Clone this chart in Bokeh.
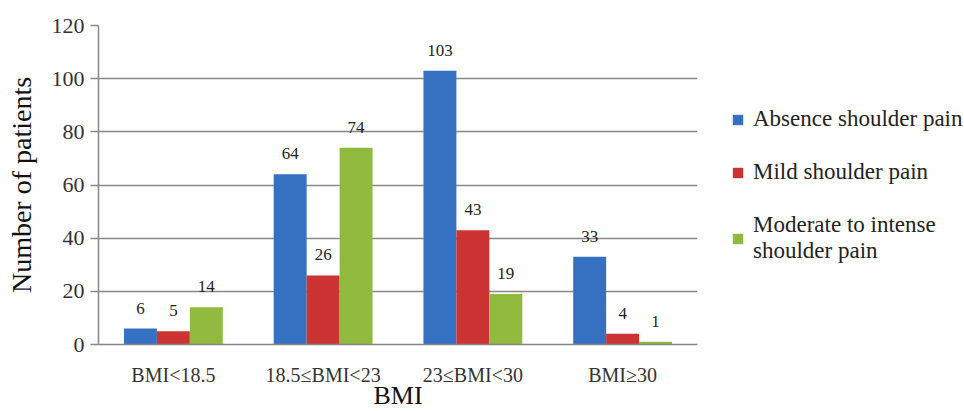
from bokeh.plotting import figure
from bokeh.models import ColumnDataSource, FactorRange, Legend, LegendItem, LabelSet
from bokeh.transform import dodge
from bokeh.embed import file_html
from bokeh.resources import INLINE
from bokeh.core.properties import value

categories = ["BMI<18.5", "18.5≤BMI<23", "23≤BMI<30", "BMI≥30"]
absence = [6, 64, 103, 33]
mild = [5, 26, 43, 4]
moderate = [14, 74, 19, 1]
series_names = ["Absence shoulder pain", "Mild shoulder pain", "Moderate to intense\nshoulder pain"]
y_ticks = [0, 20, 40, 60, 80, 100, 120]

colors = ["#3670c0", "#cc3333", "#8fba3e"]
FONT = "Liberation Serif"

src = ColumnDataSource(dict(cat=categories, a=absence, m=mild, s=moderate,
                            al=[str(v) for v in absence],
                            ml=[str(v) for v in mild],
                            sl=[str(v) for v in moderate]))

p = figure(x_range=FactorRange(*categories), y_range=(0, 120),
           frame_width=599, frame_height=319, output_backend="svg", toolbar_location=None,
           min_border_left=98, min_border_right=0, min_border_top=25, min_border_bottom=0)

W = 0.22
renderers = []
for key, lab, off, col in [("a", "al", -W, colors[0]), ("m", "ml", 0.0, colors[1]), ("s", "sl", W, colors[2])]:
    r = p.vbar(x=dodge("cat", off, range=p.x_range), top=key, width=W, source=src,
               fill_color=col, line_color=None)
    renderers.append(r)
    ls = LabelSet(x=dodge("cat", off, range=p.x_range), y=key, text=lab, source=src,
                  y_offset=15, text_align="center", text_baseline="bottom",
                  text_font=value(FONT), text_font_size="17px", text_color="#222222")
    p.add_layout(ls)

legend = Legend(items=[LegendItem(label=n, renderers=[r]) for n, r in zip(series_names, renderers)],
                location=(34, 80), padding=0, margin=0, spacing=27,
                glyph_width=13, glyph_height=13, label_standoff=9,
                label_text_font=FONT, label_text_font_size="23px",
                label_text_color="#222222", label_text_line_height=1.35,
                border_line_color=None, background_fill_alpha=0)
p.add_layout(legend, "right")

p.yaxis.ticker = y_ticks
p.xgrid.grid_line_color = None
p.ygrid.grid_line_color = "#888888"
p.ygrid.grid_line_width = 1.5
p.outline_line_color = None

for ax in [p.xaxis[0], p.yaxis[0]]:
    ax.axis_line_color = "#888888"
    ax.axis_line_width = 1.5
    ax.major_label_text_font = FONT
    ax.major_label_text_color = "#333333"
    ax.axis_label_text_font = FONT
    ax.axis_label_text_font_style = "normal"
    ax.axis_label_text_color = "#111111"
    ax.minor_tick_line_color = None

p.yaxis.major_tick_line_color = "#888888"
p.yaxis.major_tick_line_width = 1.5
p.yaxis.major_tick_out = 8
p.yaxis.major_tick_in = 0
p.yaxis.major_label_standoff = 6
p.yaxis.major_label_text_font_size = "22px"
p.yaxis.axis_label = "Number of patients"
p.yaxis.axis_label_text_font_size = "28px"
p.yaxis.axis_label_standoff = 12

p.xaxis.major_tick_line_color = None
p.xaxis.major_label_standoff = 13
p.xaxis.major_label_text_font_size = "20px"
p.xaxis.axis_label = "BMI"
p.xaxis.axis_label_text_font_size = "26px"
p.xaxis.axis_label_standoff = -8

open("out.html", "w").write(file_html(p, INLINE))
